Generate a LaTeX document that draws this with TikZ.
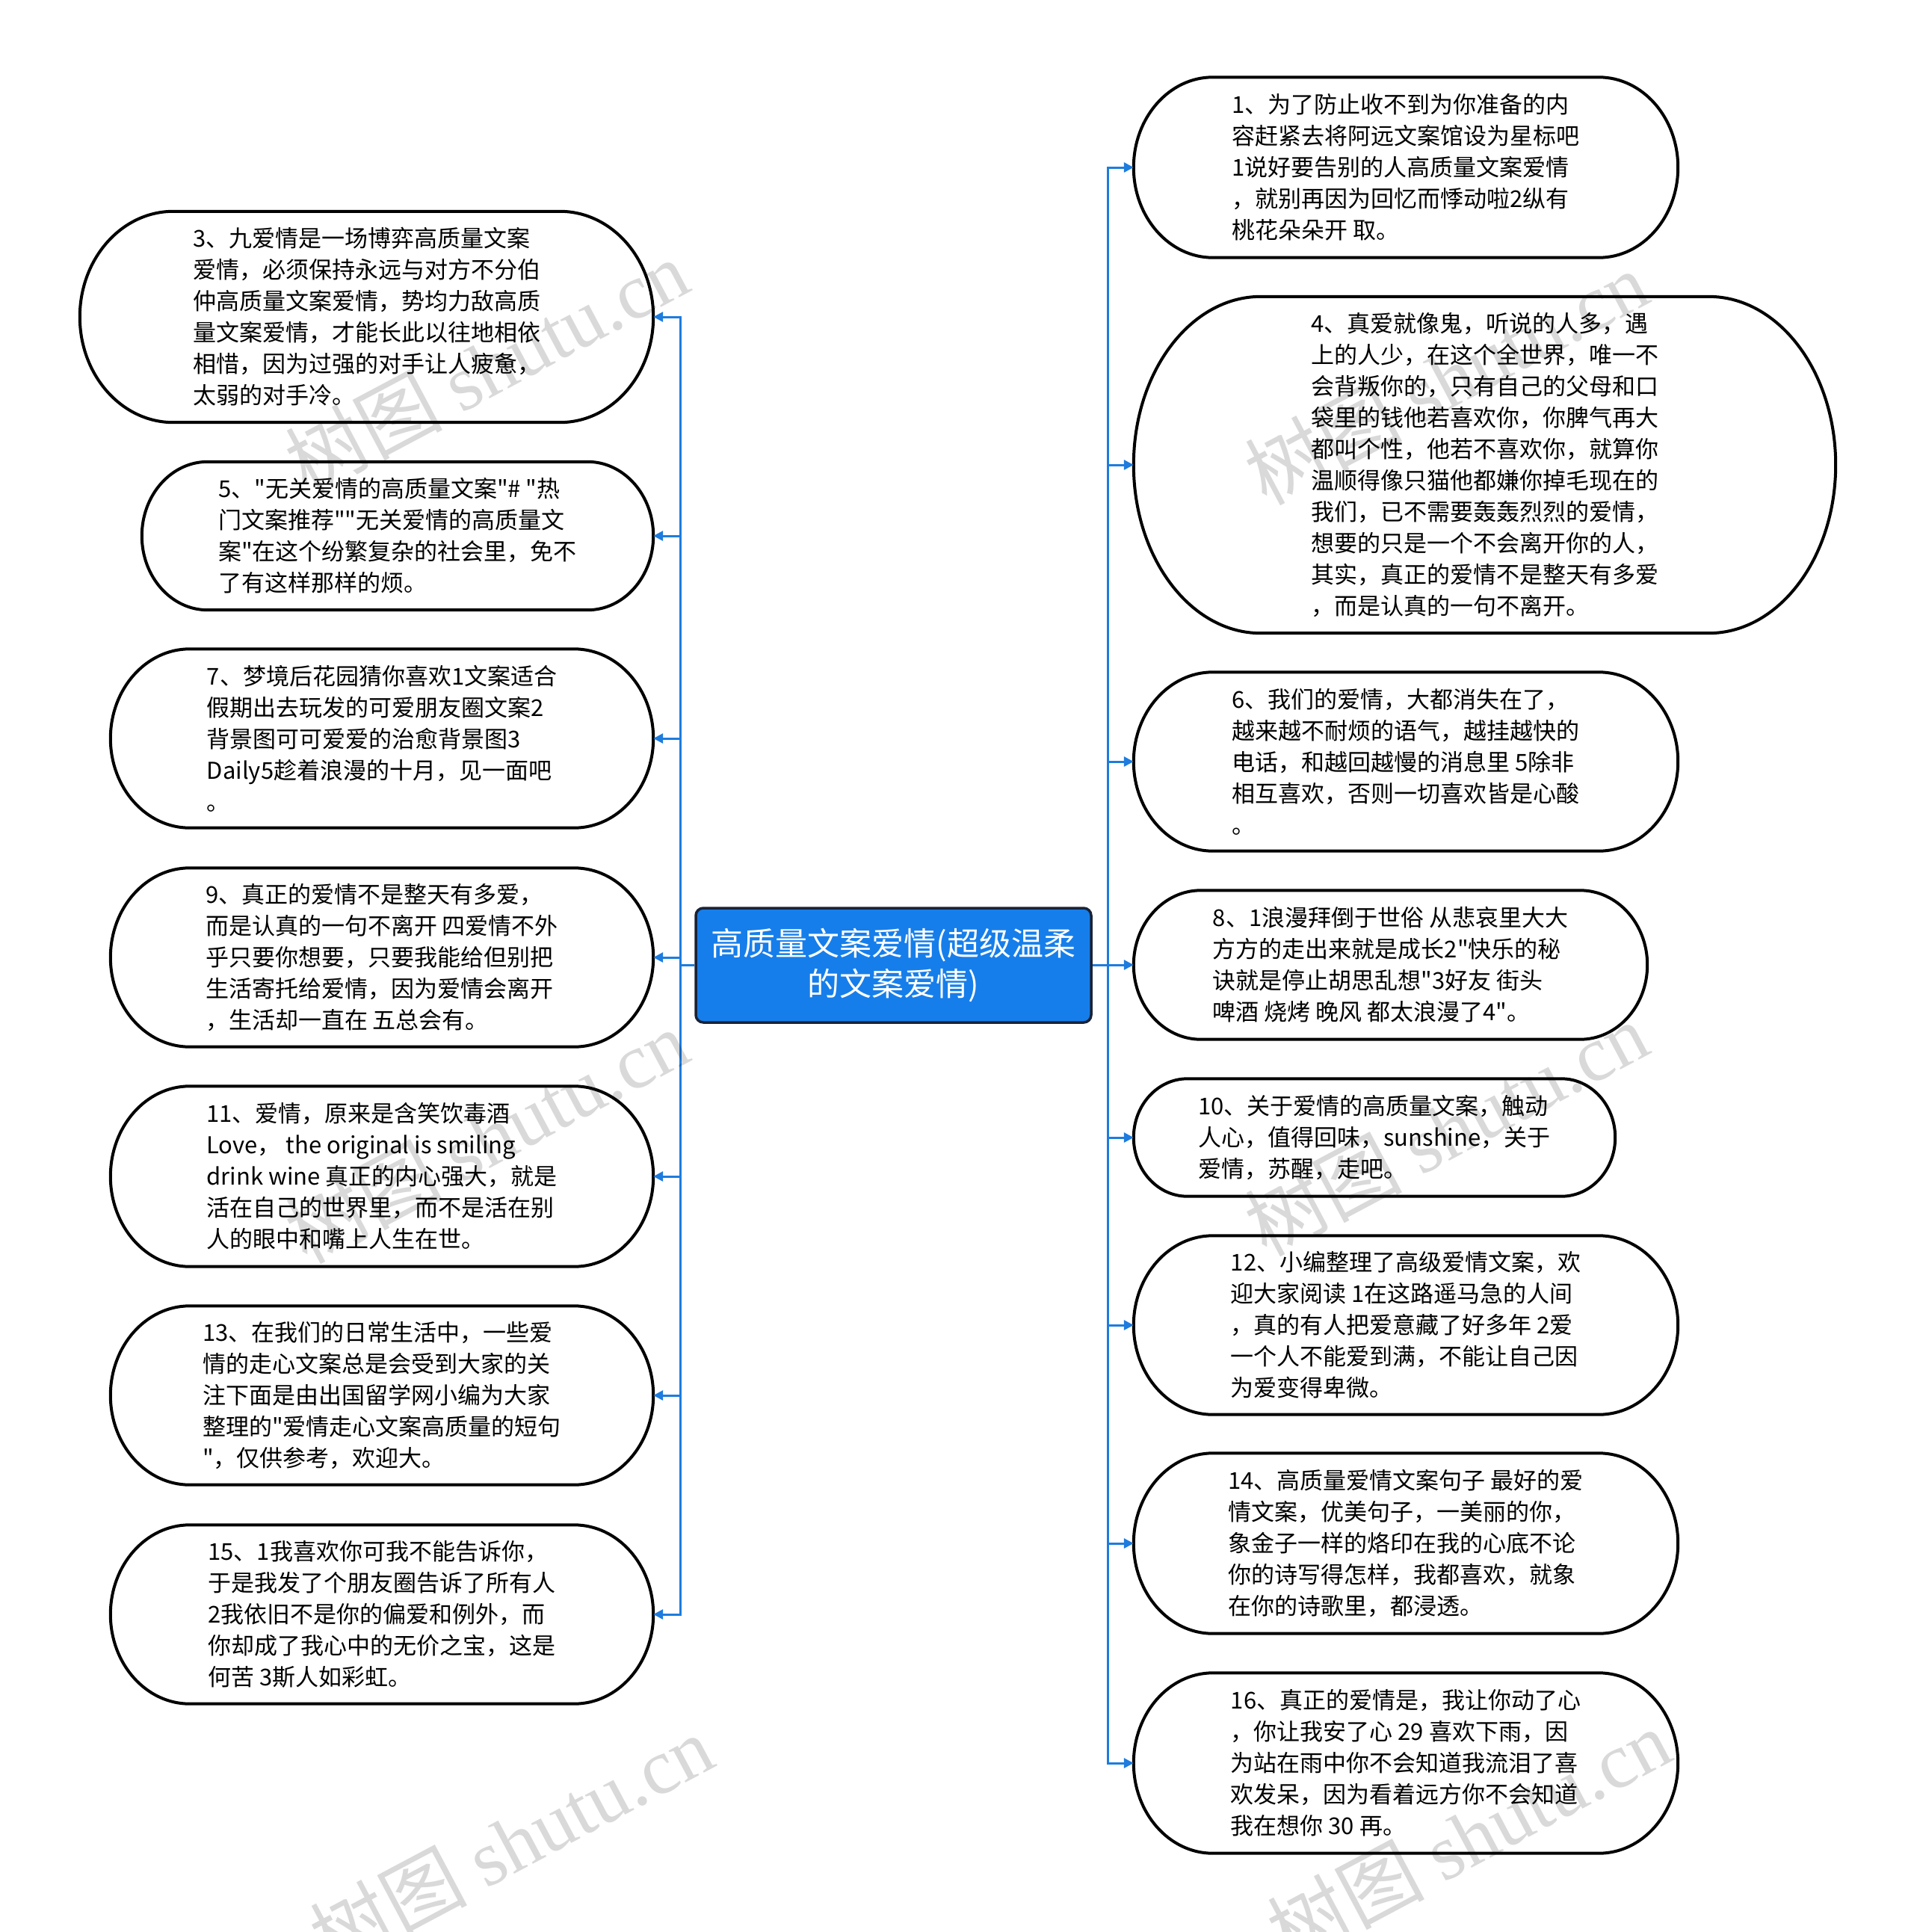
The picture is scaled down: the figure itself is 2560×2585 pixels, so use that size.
\documentclass[tikz,border=0pt]{standalone}
\usepackage{fontspec}
\newfontfamily\cjk{Noto Sans CJK SC}
\newfontfamily\wmlatin{Liberation Serif}
\usetikzlibrary{arrows.meta,calc}
\definecolor{linkblue}{RGB}{30,124,222}
\definecolor{rootblue}{RGB}{22,126,234}
\definecolor{rootedge}{RGB}{25,35,55}
\tikzset{
  card/.style={inner sep=0pt, align=left, text=black, font=\cjk\fontsize{31}{42}\selectfont},
  capline/.style={draw=black, line width=4pt},
  link/.style={draw=linkblue, line width=3pt},
  arr/.style={link, -{Triangle[length=13pt,width=13pt]}},
  root/.style={draw=rootedge, line width=3.5pt, fill=rootblue, rounded corners=10pt, text=white,
    align=center, inner sep=0pt, minimum width=529pt, minimum height=153pt,
    font=\cjk\fontsize{43}{54}\selectfont},
  wm/.style={rotate=28, text=black, text opacity=0.15, inner sep=0pt, font=\cjk\fontsize{105}{110}\selectfont}
}
\newcommand\capsule[2]{%
  \path[capline] let \p1=(#1.north west), \p2=(#1.south east), \n1={(\y1-\y2)/2} in
    (\x1+#2,\y1) -- (\x2-#2,\y1)
    arc[start angle=90, end angle=-90, x radius=#2, y radius={\n1*1pt}]
    -- (\x1+#2,\y2)
    arc[start angle=270, end angle=90, x radius=#2, y radius={\n1*1pt}] -- cycle;}
\begin{document}
\begin{tikzpicture}[x=1pt,y=-1pt]
\fill[white] (0,0) rectangle (2560,2585);
\useasboundingbox (0,0) rectangle (2560,2585);

% root
\node[root] (c) at (1195.5,1291.5) {高质量文案爱情(超级温柔\\的文案爱情)};

% left side
\node[card, minimum width=767pt, minimum height=282pt] (n3) at (490.5,424) {3、九爱情是一场博弈高质量文案\\爱情，必须保持永远与对方不分伯\\仲高质量文案爱情，势均力敌高质\\量文案爱情，才能长此以往地相依\\相惜，因为过强的对手让人疲惫，\\太弱的对手冷。};
\node[card, minimum width=684pt, minimum height=198pt] (n5) at (532,717) {5、"无关爱情的高质量文案"\# "热\\门文案推荐""无关爱情的高质量文\\案"在这个纷繁复杂的社会里，免不\\了有这样那样的烦。};
\node[card, minimum width=726pt, minimum height=239pt] (n7) at (511,988) {7、梦境后花园猜你喜欢1文案适合\\假期出去玩发的可爱朋友圈文案2\\背景图可可爱爱的治愈背景图3\\Daily5趁着浪漫的十月，见一面吧\\。};
\node[card, minimum width=726pt, minimum height=239pt] (n9) at (511,1281) {9、真正的爱情不是整天有多爱，\\而是认真的一句不离开 四爱情不外\\乎只要你想要，只要我能给但别把\\生活寄托给爱情，因为爱情会离开\\，生活却一直在 五总会有。};
\node[card, minimum width=726pt, minimum height=241pt] (n11) at (511,1574) {11、爱情，原来是含笑饮毒酒\\Love，\ the original is smiling\\drink wine 真正的内心强大，就是\\活在自己的世界里，而不是活在别\\人的眼中和嘴上人生在世。};
\node[card, minimum width=726pt, minimum height=239pt] (n13) at (511,1867) {13、在我们的日常生活中，一些爱\\情的走心文案总是会受到大家的关\\注下面是由出国留学网小编为大家\\整理的"爱情走心文案高质量的短句\\"，仅供参考，欢迎大。};
\node[card, minimum width=726pt, minimum height=239pt] (n15) at (511,2160) {15、1我喜欢你可我不能告诉你，\\于是我发了个朋友圈告诉了所有人\\2我依旧不是你的偏爱和例外，而\\你却成了我心中的无价之宝，这是\\何苦 3斯人如彩虹。};

% right side
\node[card, minimum width=728pt, minimum height=241pt] (n1) at (1881,224) {1、为了防止收不到为你准备的内\\容赶紧去将阿远文案馆设为星标吧\\1说好要告别的人高质量文案爱情\\，就别再因为回忆而悸动啦2纵有\\桃花朵朵开 取。};
\node[card, minimum width=939pt, minimum height=450pt] (n4) at (1986.5,622) {4、真爱就像鬼，听说的人多，遇\\上的人少，在这个全世界，唯一不\\会背叛你的，只有自己的父母和口\\袋里的钱他若喜欢你，你脾气再大\\都叫个性，他若不喜欢你，就算你\\温顺得像只猫他都嫌你掉毛现在的\\我们，已不需要轰轰烈烈的爱情，\\想要的只是一个不会离开你的人，\\其实，真正的爱情不是整天有多爱\\，而是认真的一句不离开。};
\node[card, minimum width=728pt, minimum height=239pt] (n6) at (1881,1019) {6、我们的爱情，大都消失在了，\\越来越不耐烦的语气，越挂越快的\\电话，和越回越慢的消息里 5除非\\相互喜欢，否则一切喜欢皆是心酸\\。};
\node[card, minimum width=687pt, minimum height=199pt] (n8) at (1860.5,1291) {8、1浪漫拜倒于世俗 从悲哀里大大\\方方的走出来就是成长2"快乐的秘\\诀就是停止胡思乱想"3好友 街头\\啤酒 烧烤 晚风 都太浪漫了4"。};
\node[card, minimum width=644pt, minimum height=157pt] (n10) at (1839,1522) {10、关于爱情的高质量文案，触动\\人心，值得回味，sunshine，关于\\爱情，苏醒，走吧。};
\node[card, minimum width=728pt, minimum height=239pt] (n12) at (1881,1773) {12、小编整理了高级爱情文案，欢\\迎大家阅读 1在这路遥马急的人间\\，真的有人把爱意藏了好多年 2爱\\一个人不能爱到满，不能让自己因\\为爱变得卑微。};
\node[card, minimum width=728pt, minimum height=241pt] (n14) at (1881,2065) {14、高质量爱情文案句子 最好的爱\\情文案，优美句子，一美丽的你，\\象金子一样的烙印在我的心底不论\\你的诗写得怎样，我都喜欢，就象\\在你的诗歌里，都浸透。};
\node[card, minimum width=728pt, minimum height=241pt] (n16) at (1881,2359) {16、真正的爱情是，我让你动了心\\，你让我安了心 29 喜欢下雨，因\\为站在雨中你不会知道我流泪了喜\\欢发呆，因为看着远方你不会知道\\我在想你 30 再。};

% capsule borders
\capsule{n3}{125pt}
\capsule{n5}{88pt}
\capsule{n7}{106pt}
\capsule{n9}{106pt}
\capsule{n11}{106pt}
\capsule{n13}{106pt}
\capsule{n15}{106pt}
\capsule{n1}{106pt}
\capsule{n4}{170pt}
\capsule{n6}{106pt}
\capsule{n8}{90pt}
\capsule{n10}{72pt}
\capsule{n12}{106pt}
\capsule{n14}{106pt}
\capsule{n16}{106pt}

% connectors
\coordinate (L) at (910,1291.5);
\coordinate (R) at (1482,1291.5);
\draw[link] (c.west) -- (L);
\draw[link] (c.east) -- (R);
\foreach \n in {n3,n5,n7,n9,n11,n13,n15} {\draw[arr] (L) |- (\n.east);}
\foreach \n in {n1,n4,n6,n8,n10,n12,n14,n16} {\draw[arr] (R) |- (\n.west);}

% watermarks
\node[wm] (w1) at (651,490) {树图 {\wmlatin shutu.cn}};
\node[wm] (w2) at (1935,505) {树图 {\wmlatin shutu.cn}};
\node[wm] (w3) at (651,1520) {树图 {\wmlatin shutu.cn}};
\node[wm] (w4) at (1935,1510) {树图 {\wmlatin shutu.cn}};
\node[wm] (w5) at (684,2464) {树图 {\wmlatin shutu.cn}};
\node[wm] (w6) at (1965,2456) {树图 {\wmlatin shutu.cn}};
\end{tikzpicture}
\end{document}
